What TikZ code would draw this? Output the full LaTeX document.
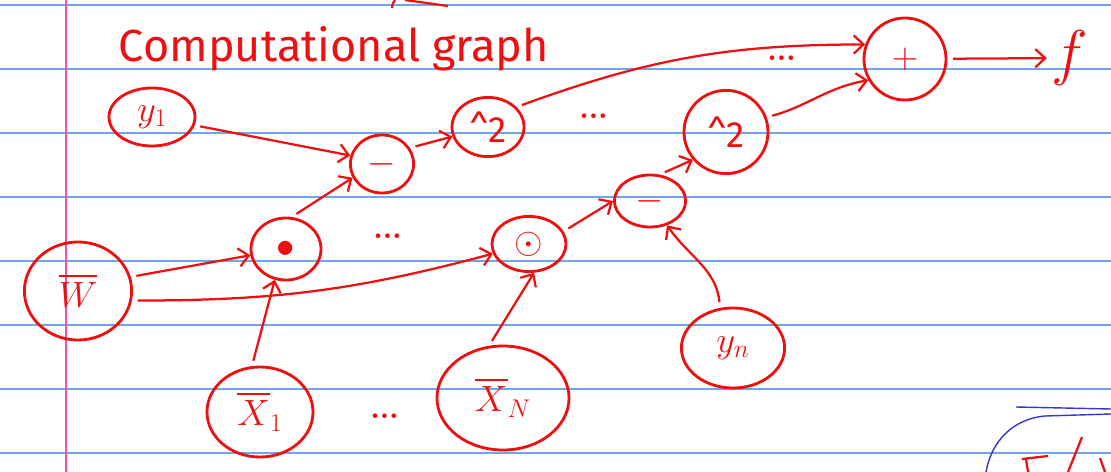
\documentclass[tikz,border=0pt]{standalone}
\usepackage{fix-cm}
\usepackage{fontspec}
\setsansfont{Fira Sans}
\usetikzlibrary{arrows.meta, shapes.geometric}
\definecolor{inkRed}{RGB}{238,16,16}
\definecolor{ruleBlue}{RGB}{110,165,235}
\definecolor{marginPink}{RGB}{240,80,175}
\definecolor{penBlue}{RGB}{55,55,205}
\newcommand{\barred}[1]{\vbox{\hrule height 1.4pt\kern 4pt\hbox{$#1$}}}
\tikzset{
  op/.style={draw=inkRed, ellipse, line width=2pt, text=inkRed, inner sep=0pt, font=\sffamily\fontsize{26}{28}\selectfont},
  flow/.style={-{Straight Barb[length=7pt, width=13pt]}, line width=1.6pt, inkRed, shorten <=4pt},
  etc/.style={text=inkRed, font=\fontsize{40}{40}\selectfont},
  scrawl/.style={text=inkRed, font=\sffamily\fontsize{32}{34}\selectfont},
}

\begin{document}
\begin{tikzpicture}[x=0.025cm, y=-0.025cm]
    \useasboundingbox (0,0) rectangle (1111,472);
    \fill[white] (0,0) rectangle (1111,472);
    % lined paper
    \foreach \r in {5,69,...,453}
      \draw[ruleBlue, line width=1pt] (0,\r) -- (1111,\r);
    \draw[marginPink, line width=1pt] (66,0) -- (66,472);

    \node[scrawl, anchor=base west] (title) at (114,62) {Computational graph};

    % inputs
    \node[op, minimum width=2.15cm, minimum height=1.45cm] (y1) at (152,117) {$y_1$};
    \node[op, minimum width=2.68cm, minimum height=2.45cm] (W)  at (78,291)  {$\barred{W}$};
    \node[op, minimum width=2.65cm, minimum height=2.25cm] (x1) at (260,412) {$\barred{X}_1$};
    \node[op, minimum width=3.3cm,  minimum height=2.6cm]  (xN) at (503,398) {$\barred{X}_N$};
    \node[op, minimum width=2.58cm, minimum height=2.0cm]  (yn) at (733,348) {$y_n$};

    % operations
    \node[op, minimum width=1.75cm, minimum height=1.55cm] (dot1) at (286,249) {$\bullet$};
    \node[op, minimum width=1.85cm, minimum height=1.38cm] (dot2) at (529,244) {$\odot$};
    \node[op, minimum width=1.58cm, minimum height=1.45cm] (sub1) at (382,164) {$-$};
    \node[op, minimum width=1.78cm, minimum height=1.3cm]  (sub2) at (650,201) {$-$};
    \node[op, minimum width=1.8cm,  minimum height=1.48cm] (sq1)  at (488,127) {\textasciicircum{}2};
    \node[op, minimum width=2.1cm,  minimum height=2.08cm] (sq2)  at (726,132) {\textasciicircum{}2};
    \node[op, minimum width=2.05cm, minimum height=2.05cm] (plus) at (905,59)  {$+$};
    \node[scrawl, font=\fontsize{44}{44}\selectfont] (f) at (1070,58) {$f$};

    % elided parts
    \node[etc] (e1) at (388,236) {\dots};
    \node[etc] (e2) at (594,116) {\dots};
    \node[etc] (e3) at (782,58)  {\dots};
    \node[etc] (e4) at (385,416) {\dots};

    % edges
    \draw[flow] (y1) -- (sub1.165);
    \draw[flow] (dot1.80) -- (sub1.205);
    \draw[flow] (sub1.30) -- (sq1.195);
    \draw[flow] (W.15) -- (dot1.190);
    \draw[flow] (W.-10) to[out=0, in=195] (dot2.195);
    \draw[flow] (x1.100) -- (dot1.-110);
    \draw[flow] (xN.105) -- (dot2.-80);
    \draw[flow] (dot2.20) -- (sub2.180);
    \draw[flow] (yn.108) to[out=95, in=-55] (sub2.-55);
    \draw[flow] (sub2.70) -- (sq2.220);
    \draw[flow] (sq1.35) to[out=20, in=180] (plus.160);
    \draw[flow] (sq2.20) to[out=15, in=190] (plus.210);
    \draw[flow] (plus) -- (f);

    % fragments at the page edges
    \draw[inkRed, line width=1.6pt] (392,8) to[bend left=20] (395,0);
    \draw[inkRed, line width=1.6pt] (405,0) -- (448,6);
    \draw[penBlue, line width=1pt] (1016,407) -- (1111,409);
    \draw[penBlue, line width=1pt] (986,472) to[out=80, in=185] (1045,416) -- (1111,414);
    \draw[inkRed, line width=1.6pt] (1022,459) -- (1048,456);
    \draw[inkRed, line width=1.6pt] (1026,459) -- (1028,472);
    \draw[inkRed, line width=1.6pt] (1068,472) -- (1082,437);
    \draw[inkRed, line width=1.6pt] (1100,458) -- (1105,472);
\end{tikzpicture}
\end{document}
